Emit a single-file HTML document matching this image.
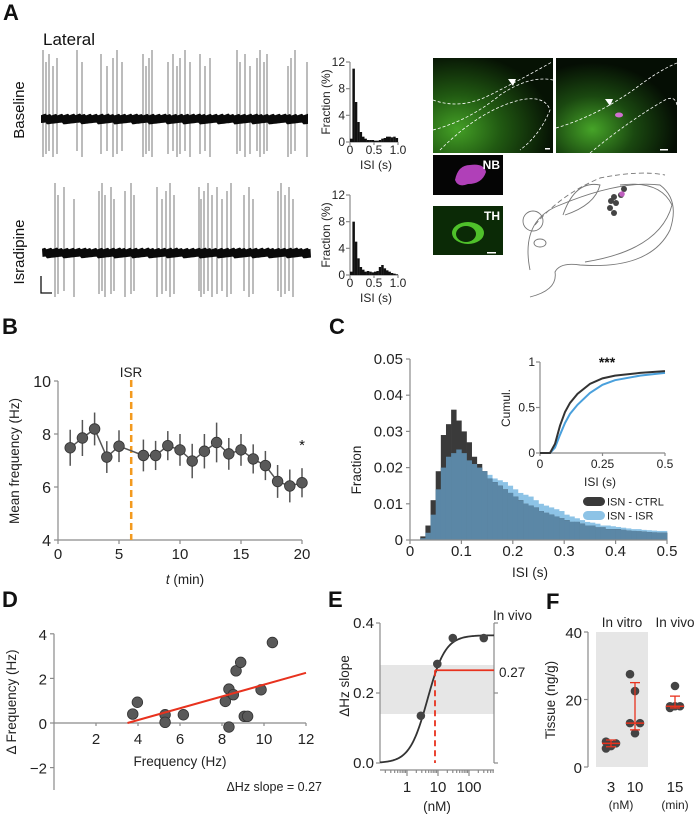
<!DOCTYPE html>
<html><head><meta charset="utf-8">
<style>
html,body{margin:0;padding:0;background:#fff;}
svg{display:block;font-family:"Liberation Sans",Arial,sans-serif;}
.pl{font-weight:bold;font-size:22px;fill:#111;}
.tk{font-size:13.5px;fill:#222;}
.sm{font-size:12px;fill:#222;}
.ax{stroke:#8a8a8a;stroke-width:1.2;fill:none;}
</style></head>
<body>
<svg id="fig" width="700" height="818" viewBox="0 0 700 818" xmlns="http://www.w3.org/2000/svg">
<defs>
<radialGradient id="g1" cx="0.2" cy="0.75" r="0.8"><stop offset="0" stop-color="#44a026"/><stop offset="0.45" stop-color="#215a12"/><stop offset="1" stop-color="#061204"/></radialGradient>
<radialGradient id="g2" cx="0.3" cy="0.75" r="0.7"><stop offset="0" stop-color="#46a428"/><stop offset="0.5" stop-color="#1a4810"/><stop offset="1" stop-color="#050e04"/></radialGradient>
</defs>
<!-- Panel letters -->
<text class="pl" x="3" y="20">A</text>
<text class="pl" x="2" y="334">B</text>
<text class="pl" x="329" y="334">C</text>
<text class="pl" x="2" y="607">D</text>
<text class="pl" x="328" y="607">E</text>
<text class="pl" x="546" y="609">F</text>

<text x="43" y="45" style="font-size:17px;fill:#111">Lateral</text>
<text transform="translate(24,110) rotate(-90)" text-anchor="middle" style="font-size:15px;fill:#111">Baseline</text>
<text transform="translate(24,252) rotate(-90)" text-anchor="middle" style="font-size:15px;fill:#111">Isradipine</text>
<path d="M41 276 V293 H52" stroke="#111" stroke-width="1.3" fill="none"/>

<g id="traces"></g>
<g id="isihist"></g>

<!-- microscopy -->
<g>
<rect x="433" y="58" width="120" height="95" fill="url(#g1)"/>
<path d="M433 130 Q470 120 500 95 Q530 75 553 80" stroke="#fff" stroke-width="0.8" stroke-dasharray="3,2" fill="none"/>
<path d="M440 150 Q480 110 520 100 Q545 95 550 110 Q540 135 520 150" stroke="#fff" stroke-width="0.8" stroke-dasharray="3,2" fill="none"/>
<path d="M433 100 Q460 110 490 95 Q520 80 552 62" stroke="#fff" stroke-width="0.8" stroke-dasharray="3,2" fill="none"/>
<polygon points="508,79 516,79 513,86" fill="#fff"/>
<rect x="545" y="148" width="5" height="1.5" fill="#fff"/>
<rect x="556" y="58" width="121" height="95" fill="url(#g2)"/>
<path d="M556 128 Q600 115 640 85 Q660 70 677 63" stroke="#fff" stroke-width="0.8" stroke-dasharray="3,2" fill="none"/>
<path d="M590 153 Q630 120 665 100 Q675 95 677 105" stroke="#fff" stroke-width="0.8" stroke-dasharray="3,2" fill="none"/>
<polygon points="605,99 613,99 610,106" fill="#fff"/>
<ellipse cx="619" cy="115" rx="4" ry="2.5" fill="#d070d0"/>
<rect x="660" y="149" width="8" height="1.5" fill="#fff"/>
<rect x="433" y="155" width="70" height="40" fill="#050505"/>
<path d="M455 180 Q458 165 470 165 Q484 163 486 172 Q482 184 468 184 Q458 188 455 180Z" fill="#b040b8"/>
<text x="500" y="169" text-anchor="end" style="font-size:12px;font-weight:bold;fill:#fff">NB</text>
<rect x="433" y="206" width="70" height="49" fill="#0b2a06"/>
<ellipse cx="468" cy="233" rx="16" ry="11" fill="#4fc02a"/>
<ellipse cx="466" cy="234" rx="10" ry="8" fill="#0b2a06"/>
<text x="500" y="220" text-anchor="end" style="font-size:12px;font-weight:bold;fill:#fff">TH</text>
<rect x="487" y="252" width="9" height="1.5" fill="#fff"/>
</g>
<g stroke="#777" stroke-width="0.9" fill="none">
<path d="M530 270 Q520 220 560 205 Q620 180 660 185 Q680 200 670 230 Q650 270 580 265 Q560 262 555 272 Q558 290 530 297"/>
<path d="M535 225 Q560 195 600 178 Q640 170 665 175" stroke-dasharray="5,3"/>
<circle cx="533" cy="221" r="10"/>
<ellipse cx="540" cy="243" rx="6" ry="4"/>
<path d="M563 215 Q575 180 600 185 Q595 205 565 215"/>
<path d="M620 185 Q660 180 672 205 Q660 250 585 262"/>
</g>
<g>
<circle cx="624" cy="189" r="3" fill="#444"/>
<circle cx="621" cy="195" r="3" fill="#444"/>
<circle cx="614" cy="197" r="3" fill="#444"/>
<circle cx="611" cy="201" r="3" fill="#444"/>
<circle cx="616" cy="203" r="3" fill="#444"/>
<circle cx="610" cy="208" r="3" fill="#444"/>
<circle cx="614" cy="213" r="3" fill="#444"/>
<circle cx="622" cy="194" r="2.8" fill="#c060c0"/>
</g>

<!-- static labels for B -->
<text x="131" y="377" text-anchor="middle" class="tk">ISR</text>
<text x="302" y="450" text-anchor="middle" style="font-size:15px;fill:#111">*</text>
<text x="185" y="584" text-anchor="middle" class="tk"><tspan font-style="italic">t</tspan> (min)</text>
<text transform="translate(19,461) rotate(-90)" text-anchor="middle" class="tk">Mean frequency (Hz)</text>
<!-- C -->
<text x="530" y="577" text-anchor="middle" class="tk">ISI (s)</text>
<text transform="translate(361,470) rotate(-90)" text-anchor="middle" class="tk">Fraction</text>
<text x="607" y="367" text-anchor="middle" style="font-size:14px;font-weight:bold;fill:#111">***</text>
<text x="600" y="486" text-anchor="middle" class="sm">ISI (s)</text>
<text transform="translate(510,408) rotate(-90)" text-anchor="middle" class="sm">Cumul.</text>
<rect x="583" y="497" width="22" height="9" rx="4.5" fill="#3a3a3a"/>
<text x="607" y="505.5" class="sm" style="font-size:11px">ISN - CTRL</text>
<rect x="583" y="511" width="22" height="9" rx="4.5" fill="#8dc3e6"/>
<text x="607" y="519.5" class="sm" style="font-size:11px">ISN - ISR</text>
<!-- D -->
<text x="180" y="766" text-anchor="middle" class="tk">Frequency (Hz)</text>
<text transform="translate(16,702) rotate(-90)" text-anchor="middle" class="tk">Δ Frequency (Hz)</text>
<text x="322" y="791" text-anchor="end" style="font-size:12.5px;fill:#222">ΔHz slope = 0.27</text>
<!-- E -->
<text transform="translate(349,686) rotate(-90)" text-anchor="middle" class="tk">ΔHz slope</text>
<text x="493" y="620" class="tk">In vivo</text>
<text x="499" y="677" class="tk">0.27</text>
<text x="437" y="811" text-anchor="middle" class="tk">(nM)</text>
<!-- F -->
<text transform="translate(555,700) rotate(-90)" text-anchor="middle" class="tk">Tissue (ng/g)</text>
<text x="622" y="627" text-anchor="middle" class="tk">In vitro</text>
<text x="675" y="627" text-anchor="middle" class="tk">In vivo</text>
<text x="621" y="809" text-anchor="middle" class="sm">(nM)</text>
<text x="675" y="809" text-anchor="middle" class="sm">(min)</text>

<g id="charts"></g>
</svg>
<script>
// ---------- Panel A data ----------
const baseSpikes=[43,46,49,53,57,77,82,101,107,113,117,122,143,146,149,152,168,173,177,180,185,190,200,205,210,237,240,245,250,257,260,264,267,288,291,295,307];
const israSpikes=[55,58,64,74,99,102,105,111,114,125,131,134,157,162,166,170,174,199,201,204,208,212,217,222,227,231,244,249,253,278,281,285,289,293];
const isiBase=[0.5,11,6,3,1.5,0.8,0.5,0.3,0.3,0.3,0.2,0.2,0.3,0.5,0.6,0.8,0.8,0.7,0.8,0.6];
const isiIsra=[0.5,8,5,2.5,1.2,0.8,0.5,0.6,0.5,0.4,0.5,0.6,1.2,1.5,1.0,0.7,0.5,0.3,0.2,0.1];
const isiTicks=[0,0.5,1.0];
const fracTicks=[0,4,8,12];
// ---------- Panel B data ----------
const timeB=[1,2,3,4,5,7,8,9,10,11,12,13,14,15,16,17,18,19,20];
const freqB=[7.48,7.85,8.19,7.13,7.54,7.19,7.19,7.56,7.4,6.98,7.35,7.68,7.25,7.4,7.06,6.81,6.21,6.04,6.16];
const errB=[0.68,0.68,0.62,0.6,0.6,0.6,0.55,0.55,0.6,0.65,0.65,0.75,0.6,0.6,0.55,0.55,0.62,0.62,0.55];
const isrTime=6;
const xTicksB=[0,5,10,15,20];
const yTicksB=[4,6,8,10];
// ---------- Panel C data ----------
const histCtrl=[0,0,0.001,0.004,0.011,0.019,0.029,0.032,0.036,0.033,0.030,0.027,0.023,0.021,0.019,0.017,0.016,0.015,0.014,0.013,0.012,0.011,0.010,0.0095,0.009,0.008,0.0075,0.007,0.0065,0.006,0.0055,0.005,0.005,0.0045,0.004,0.004,0.0035,0.0035,0.003,0.003,0.003,0.0028,0.0026,0.0025,0.0024,0.0023,0.0022,0.0021,0.002,0.002];
const histIsr=[0,0,0.0005,0.002,0.007,0.014,0.020,0.023,0.024,0.025,0.024,0.022,0.021,0.020,0.019,0.018,0.017,0.0165,0.016,0.015,0.014,0.013,0.0125,0.012,0.011,0.010,0.0095,0.009,0.0085,0.008,0.007,0.0065,0.006,0.0055,0.005,0.0048,0.0045,0.004,0.004,0.0038,0.0036,0.0034,0.0032,0.003,0.003,0.0028,0.0027,0.0026,0.0025,0.0025];
const binWidthC=0.01;
const xTicksC=[0,0.1,0.2,0.3,0.4,0.5];
const yTicksC=[0,0.01,0.02,0.03,0.04,0.05];
const cumIsi=[0,0.04,0.06,0.08,0.1,0.12,0.15,0.2,0.25,0.3,0.4,0.5];
const cumCtrl=[0,0,0.1,0.3,0.45,0.55,0.65,0.76,0.82,0.85,0.88,0.9];
const cumIsr=[0,0,0.06,0.2,0.33,0.43,0.53,0.66,0.75,0.8,0.85,0.88];
const insetXTicks=[0,0.25,0.5];
const insetYTicks=[0,0.5,1];
// ---------- Panel D data ----------
const freqD=[3.75,3.97,5.29,5.29,6.16,8.16,8.33,8.54,8.33,8.67,8.89,9.06,9.22,9.86,10.4];
const deltaD=[0.4,0.93,0.37,0.03,0.37,0.97,1.52,1.27,-0.18,2.34,2.72,0.3,0.3,1.49,3.61];
const fitD=[[3.5,0],[12,2.25]];
const xTicksD=[2,4,6,8,10,12];
const yTicksD=[-2,0,2,4];
// ---------- Panel E data ----------
const concE=[2.8,9.5,30,300];
const slopeE=[0.135,0.283,0.357,0.357];
const hillTop=0.365, hillEC50=4.6, hillN=1.5;
const bandE=[0.14,0.28];
const inVivoSlope=0.265, inVivoConc=8;
const yTicksE=[0,0.2,0.4];
const xTickLabelsE=[1,10,100];
// ---------- Panel F data ----------
const groupsF=["3","10","15"];
const pointsF=[[5.5,6.5,7,7.5,6.2],[27.5,22.5,13,13,10],[17.5,18,18,18,24]];
const medianF=[7,13,18];
const errLoF=[6,11,17.5];
const errHiF=[8,25,21];
const yTicksF=[0,20,40];

const NS="http://www.w3.org/2000/svg";
const root=document.getElementById('charts');
function mk(tag,attrs,name,parent){
  const el=document.createElementNS(NS,tag);
  for(const k in attrs) el.setAttribute(k,attrs[k]);
  
  
  (parent||root).appendChild(el);
  return el;
}
function txt(x,y,s,name,anchor,cls,parent){
  const t=mk('text',{x:x,y:y,'text-anchor':anchor||'middle','class':cls||'tk'},name,parent);
  t.textContent=s;return t;
}
const fmt=v=>String(v);

// ---------- Panel A ----------
(function(){
  const g=document.getElementById('traces');
  function trace(spikes,x0,x1,yb,top,bot,nm){
    spikes.forEach((s,i)=>{
      const h=top+((i*13)%5)*4;
      mk('line',{x1:s,x2:s,y1:h,y2:bot-((i*7)%3)*3,stroke:'#6a6a6a','stroke-width':0.9},nm+'-spike',g);
    });
    let d='';
    for(let x=x0;x<=x1;x+=1.5){const o=((x*7.3)%4)-2;d+=(x===x0?'M':'L')+x+' '+(yb-4.5+o*0.5).toFixed(1)+' ';}
    for(let x=x1;x>=x0;x-=1.5){const o=((x*5.1)%4)-2;d+='L'+x+' '+(yb+4.5+o*0.5).toFixed(1)+' ';}
    d+='Z';
    mk('path',{d:d,fill:'#0a0a0a'},nm+'-baseline',g);
  }
  trace(baseSpikes,41,308,119,50,157,'baseline-trace');
  trace(israSpikes,42,311,253,183,297,'isradipine-trace');
  const h=document.getElementById('isihist');
  function hist(vals,y0,nm){
    const xs=v=>350+v*48, ys=v=>y0-v*(80/12);
    mk('line',{x1:350,x2:350,y1:ys(12),y2:y0,'class':'ax'},nm+'-y-axis',h);
    mk('line',{x1:350,x2:398,y1:y0,y2:y0,'class':'ax'},nm+'-x-axis',h);
    fracTicks.forEach(t=>{mk('line',{x1:346,x2:350,y1:ys(t),y2:ys(t),'class':'ax'},nm+'-y-tick',h);txt(345,ys(t)+4,fmt(t),nm+'-y-tick-label','end','sm',h);});
    isiTicks.forEach(t=>{mk('line',{x1:xs(t),x2:xs(t),y1:y0,y2:y0+3,'class':'ax'},nm+'-x-tick',h);txt(xs(t),y0+12,t===1?'1.0':fmt(t),nm+'-x-tick-label','middle','sm',h);});
    vals.forEach((v,i)=>{mk('rect',{x:xs(i*0.05),y:ys(v),width:2.5,height:y0-ys(v),fill:'#111'},nm+'-bar',h);});
    txt(376,y0+27,'ISI (s)',nm+'-x-title','middle','sm',h);
    const t=txt(0,0,'Fraction (%)',nm+'-y-title','middle','sm',h);
    t.setAttribute('transform','translate(330,'+(y0-40)+') rotate(-90)');
  }
  hist(isiBase,142,'isi-hist-baseline');
  hist(isiIsra,275,'isi-hist-isradipine');
})();

// ---------- Panel B ----------
(function(){
  const x=t=>58+t*12.2, y=v=>540-(v-4)*26.5;
  mk('line',{x1:58,x2:58,y1:y(10),y2:540,'class':'ax'},'y-axis-b');
  mk('line',{x1:58,x2:x(20),y1:540,y2:540,'class':'ax'},'x-axis-b');
  yTicksB.forEach(t=>{mk('line',{x1:54,x2:58,y1:y(t),y2:y(t),'class':'ax'},'y-tick-b');txt(51,y(t)+6,fmt(t),'y-tick-label-b','end','tk').style.fontSize='16px';});
  xTicksB.forEach(t=>{mk('line',{x1:x(t),x2:x(t),y1:540,y2:544,'class':'ax'},'x-tick-b');txt(x(t),559,fmt(t),'x-tick-label-b').style.fontSize='15px';});
  mk('line',{x1:x(isrTime),x2:x(isrTime),y1:380,y2:540,stroke:'#f39a1e','stroke-width':2.5,'stroke-dasharray':'7,4'},'isr-marker-line');
  mk('polyline',{points:timeB.map((t,i)=>x(t)+','+y(freqB[i])).join(' '),fill:'none',stroke:'#555','stroke-width':1.5},'mean-line-b');
  timeB.forEach((t,i)=>{
    mk('line',{x1:x(t),x2:x(t),y1:y(freqB[i]+errB[i]),y2:y(freqB[i]-errB[i]),stroke:'#555','stroke-width':1.5},'error-bar-b');
    mk('circle',{cx:x(t),cy:y(freqB[i]),r:5.3,fill:'#595959',stroke:'#333','stroke-width':0.8},'point-b');
  });
})();

// ---------- Panel C ----------
(function(){
  const x=s=>410+s*514, y=f=>540-f*3620;
  histIsr.forEach((v,i)=>{mk('rect',{x:x(i*binWidthC),y:y(v),width:x(binWidthC)-x(0)+0.3,height:540-y(v),fill:'#8dc3e6'},'bar-isr');});
  histCtrl.forEach((v,i)=>{mk('rect',{x:x(i*binWidthC),y:y(v),width:x(binWidthC)-x(0)+0.3,height:540-y(v),fill:'#3a3a3a'},'bar-ctrl');});
  histCtrl.forEach((v,i)=>{const m=Math.min(v,histIsr[i]);mk('rect',{x:x(i*binWidthC),y:y(m),width:x(binWidthC)-x(0)+0.3,height:540-y(m),fill:'#5b87a6'},'bar-overlap');});
  mk('line',{x1:410,x2:410,y1:y(0.05),y2:540,'class':'ax'},'y-axis-c');
  mk('line',{x1:410,x2:x(0.5),y1:540,y2:540,'class':'ax'},'x-axis-c');
  yTicksC.forEach(t=>{mk('line',{x1:406,x2:410,y1:y(t),y2:y(t),'class':'ax'},'y-tick-c');txt(403,y(t)+5,fmt(t),'y-tick-label-c','end').style.fontSize='15px';});
  xTicksC.forEach(t=>{mk('line',{x1:x(t),x2:x(t),y1:540,y2:544,'class':'ax'},'x-tick-c');txt(x(t),556,fmt(t),'x-tick-label-c').style.fontSize='15px';});
  const xi=s=>540+s*250, yi=c=>453-c*91;
  mk('line',{x1:540,x2:540,y1:yi(1),y2:yi(0),'class':'ax'},'inset-y-axis');
  mk('line',{x1:540,x2:xi(0.5),y1:yi(0),y2:yi(0),'class':'ax'},'inset-x-axis');
  insetYTicks.forEach(t=>{mk('line',{x1:536,x2:540,y1:yi(t),y2:yi(t),'class':'ax'},'inset-y-tick');txt(535,yi(t)+4,fmt(t),'inset-y-tick-label','end','sm');});
  insetXTicks.forEach(t=>{mk('line',{x1:xi(t),x2:xi(t),y1:yi(0),y2:yi(0)+3,'class':'ax'},'inset-x-tick');txt(xi(t),yi(0)+15,fmt(t),'inset-x-tick-label','middle','sm');});
  mk('polyline',{points:cumIsi.map((s,i)=>xi(s)+','+yi(cumIsr[i])).join(' '),fill:'none',stroke:'#4aa0dc','stroke-width':2},'cumulative-isr');
  mk('polyline',{points:cumIsi.map((s,i)=>xi(s)+','+yi(cumCtrl[i])).join(' '),fill:'none',stroke:'#333','stroke-width':2},'cumulative-ctrl');
})();

// ---------- Panel D ----------
(function(){
  const x=v=>54+v*21, y=v=>723-v*22.3;
  mk('line',{x1:54,x2:54,y1:y(4),y2:790,'class':'ax'},'y-axis-d');
  mk('line',{x1:54,x2:x(12),y1:y(0),y2:y(0),'class':'ax'},'x-axis-d');
  yTicksD.forEach(t=>{mk('line',{x1:50,x2:54,y1:y(t),y2:y(t),'class':'ax'},'y-tick-d');txt(47,y(t)+6,t<0?'\u2212'+(-t):fmt(t),'y-tick-label-d','end').style.fontSize='15px';});
  xTicksD.forEach(t=>{mk('line',{x1:x(t),x2:x(t),y1:y(0),y2:y(0)+3,'class':'ax'},'x-tick-d');txt(x(t),y(0)+21,fmt(t),'x-tick-label-d').style.fontSize='15px';});
  freqD.forEach((f,i)=>{mk('circle',{cx:x(f),cy:y(deltaD[i]),r:5.3,fill:'#595959',stroke:'#333','stroke-width':0.8},'point-d');});
  mk('line',{x1:x(fitD[0][0]),y1:y(fitD[0][1]),x2:x(fitD[1][0]),y2:y(fitD[1][1]),stroke:'#e8321e','stroke-width':2},'fit-line-d');
})();

// ---------- Panel E ----------
(function(){
  const x=c=>407+31*Math.log10(c), y=v=>763-v*350;
  const xmin=380,xmax=494;
  mk('rect',{x:xmin,y:y(bandE[1]),width:xmax-xmin,height:y(bandE[0])-y(bandE[1]),fill:'#e6e6e6'},'in-vivo-range-band');
  mk('line',{x1:xmin,x2:xmin,y1:y(0.4),y2:y(0),'class':'ax'},'y-axis-e');
  mk('line',{x1:xmax,x2:xmax,y1:y(0.4),y2:y(0),'class':'ax'},'right-axis-e');
  mk('line',{x1:xmin,x2:xmax,y1:770,y2:770,'class':'ax'},'x-axis-e');
  yTicksE.forEach(t=>{mk('line',{x1:xmin-4,x2:xmin,y1:y(t),y2:y(t),'class':'ax'},'y-tick-e');mk('line',{x1:xmax,x2:xmax+4,y1:y(t),y2:y(t),'class':'ax'},'right-tick-e');txt(xmin-6,y(t)+5,t===0?'0.0':fmt(t),'y-tick-label-e','end').style.fontSize='15px';});
  for(let d=-1;d<=2;d++){for(let m=1;m<10;m++){const c=m*Math.pow(10,d);const xx=x(c);if(xx<xmin||xx>xmax)continue;mk('line',{x1:xx,x2:xx,y1:770,y2:m===1?776:773,'class':'ax'},'x-tick-e');}}
  xTickLabelsE.forEach(t=>txt(x(t),792,fmt(t),'x-tick-label-e').style.fontSize='15px');
  let d='';for(let px=xmin;px<=xmax;px+=1){const c=Math.pow(10,(px-407)/31);const v=hillTop/(1+Math.pow(hillEC50/c,hillN));d+=(px===xmin?'M':'L')+px+' '+y(v).toFixed(2)+' ';}
  mk('path',{d:d,fill:'none',stroke:'#333','stroke-width':1.8},'hill-fit-curve');
  mk('line',{x1:x(inVivoConc),x2:x(inVivoConc),y1:y(inVivoSlope),y2:y(0),stroke:'#e8321e','stroke-width':1.8,'stroke-dasharray':'6,4'},'ec-dashed-line');
  mk('line',{x1:x(inVivoConc),x2:xmax,y1:y(inVivoSlope),y2:y(inVivoSlope),stroke:'#e8321e','stroke-width':1.8},'in-vivo-level-line');
  concE.forEach((c,i)=>mk('circle',{cx:x(c),cy:y(slopeE[i]),r:4.3,fill:'#444'},'point-e'));
})();

// ---------- Panel F ----------
(function(){
  const y=v=>767-v*3.375, xs=[611,635,675];
  mk('rect',{x:596,y:y(40),width:52,height:y(0)-y(40),fill:'#e6e6e6'},'in-vitro-background');
  mk('line',{x1:588,x2:588,y1:y(40),y2:y(0),'class':'ax'},'y-axis-f');
  yTicksF.forEach(t=>{mk('line',{x1:584,x2:588,y1:y(t),y2:y(t),'class':'ax'},'y-tick-f');txt(582,y(t)+6,fmt(t),'y-tick-label-f','end').style.fontSize='15px';});
  groupsF.forEach((gname,gi)=>{
    txt(xs[gi],792,gname,'x-tick-label-f').style.fontSize='15px';
    pointsF[gi].forEach((v,i)=>mk('circle',{cx:xs[gi]+((i%3)-1)*5,cy:y(v),r:4.3,fill:'#444'},'point-f'));
    mk('line',{x1:xs[gi],x2:xs[gi],y1:y(errHiF[gi]),y2:y(errLoF[gi]),stroke:'#e8321e','stroke-width':1.3},'error-bar-f');
    mk('line',{x1:xs[gi]-5,x2:xs[gi]+5,y1:y(errHiF[gi]),y2:y(errHiF[gi]),stroke:'#e8321e','stroke-width':1.3},'error-cap-f');
    mk('line',{x1:xs[gi]-5,x2:xs[gi]+5,y1:y(errLoF[gi]),y2:y(errLoF[gi]),stroke:'#e8321e','stroke-width':1.3},'error-cap-f');
    mk('line',{x1:xs[gi]-9,x2:xs[gi]+9,y1:y(medianF[gi]),y2:y(medianF[gi]),stroke:'#e8321e','stroke-width':1.5},'median-line-f');
  });
})();
</script>
</body></html>
